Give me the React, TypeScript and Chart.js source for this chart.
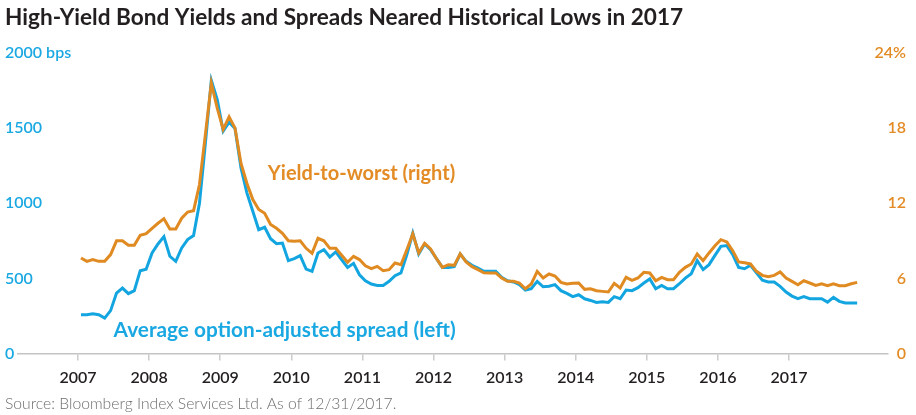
import React, { useEffect, useRef } from 'react';
import { Chart, registerables } from 'chart.js';

Chart.register(...registerables);

const titleText = 'High-Yield Bond Yields and Spreads Neared Historical Lows in 2017';
const sourceText = 'Source: Bloomberg Index Services Ltd. As of 12/31/2017.';

const years = [2007, 2008, 2009, 2010, 2011, 2012, 2013, 2014, 2015, 2016, 2017];

// Average option-adjusted spread, bps (left axis), monthly Jan 2007 - Dec 2017
const oasBps = [
  258, 258, 265, 258, 235, 285, 402, 435, 398, 418, 551, 560,
  669, 729, 778, 647, 613, 702, 758, 785, 1000, 1400, 1818, 1690,
  1480, 1540, 1498, 1236, 1069, 947, 824, 840, 764, 731, 735, 618,
  631, 651, 562, 547, 669, 691, 642, 676, 624, 573, 600, 524,
  484, 462, 453, 453, 480, 518, 536, 658, 802, 662, 729, 691,
  631, 573, 573, 578, 662, 613, 587, 569, 547, 547, 547, 507,
  484, 476, 458, 422, 431, 480, 444, 447, 458, 418, 400, 378,
  391, 364, 353, 340, 344, 340, 378, 364, 422, 418, 438, 469,
  496, 431, 453, 431, 431, 464, 502, 531, 618, 558, 591, 653,
  713, 718, 658, 573, 564, 587, 536, 487, 476, 476, 447, 409,
  382, 365, 378, 364, 364, 364, 342, 373, 347, 336, 336, 336,
];

// Yield-to-worst, % (right axis), monthly Jan 2007 - Dec 2017
const ytwPct = [
  7.63, 7.36, 7.5, 7.36, 7.36, 7.9, 9.0, 9.0, 8.64, 8.64, 9.44, 9.57,
  10.0, 10.4, 10.77, 9.95, 9.95, 10.8, 11.3, 11.4, 13.5, 17.5, 21.6, 19.6,
  17.9, 18.9, 18.0, 15.2, 13.6, 12.3, 11.5, 11.2, 10.3, 10.0, 9.6, 9.0,
  8.96, 9.0, 8.4, 8.0, 9.2, 9.0, 8.4, 8.4, 7.84, 7.28, 7.76, 7.5,
  7.0, 6.77, 6.96, 6.61, 6.69, 7.23, 7.09, 8.29, 9.55, 8.03, 8.8, 8.35,
  7.57, 6.88, 7.09, 7.04, 7.95, 7.31, 6.93, 6.69, 6.45, 6.43, 6.43, 6.03,
  5.76, 5.76, 5.63, 5.17, 5.55, 6.56, 6.03, 6.35, 6.19, 5.68, 5.55, 5.6,
  5.63, 5.12, 5.17, 5.01, 4.96, 4.91, 5.6, 5.23, 6.08, 5.84, 6.03, 6.48,
  6.43, 5.81, 6.08, 5.89, 5.89, 6.48, 6.88, 7.15, 7.95, 7.41, 8.03, 8.61,
  9.09, 8.91, 8.21, 7.31, 7.25, 7.15, 6.56, 6.24, 6.13, 6.24, 6.51, 6.03,
  5.76, 5.49, 5.81, 5.63, 5.44, 5.57, 5.41, 5.57, 5.41, 5.41, 5.57, 5.68,
];

const leftTicks = [0, 500, 1000, 1500, 2000];
const rightTicks = [0, 6, 12, 18, 24];

const xMin = 2006.156;
const xMax = 2018.392;

const BLUE = '#12a5e0';
const ORANGE = '#e08a22';
const BLUE_TEXT = '#1aa8e2';
const ORANGE_TEXT = '#e38c26';

const seriesLabels = [
  { text: 'Yield-to-worst (right)', x: 2009.67, y: 14.4, axis: 'y2', color: ORANGE_TEXT, size: 20 },
  { text: 'Average option-adjusted spread (left)', x: 2007.5, y: 155, axis: 'y', color: BLUE_TEXT, size: 20.8 },
];

const FONT = 'Lato, "Noto Sans", sans-serif';

export default function App() {
  const ref = useRef<HTMLCanvasElement | null>(null);

  useEffect(() => {
    document.body.style.margin = '0';
    const canvas = ref.current;
    if (!canvas) return;
    const dates = oasBps.map((_, i) => years[0] + (i + 0.5) / 12);

    const labelPlugin = {
      id: 'seriesLabels',
      afterDatasetsDraw(chart: any) {
        const { ctx, scales } = chart;
        ctx.save();
        ctx.textBaseline = 'middle';
        ctx.textAlign = 'left';
        for (const a of seriesLabels) {
          ctx.font = `bold ${a.size}px ${FONT}`;
          ctx.fillStyle = a.color;
          ctx.fillText(a.text, scales.x.getPixelForValue(a.x), scales[a.axis].getPixelForValue(a.y));
        }
        ctx.restore();
      },
    };

    const chart = new Chart(canvas, {
      type: 'line',
      data: {
        datasets: [
          {
            label: 'Yield-to-worst (right)',
            data: dates.map((x, i) => ({ x, y: ytwPct[i] })),
            yAxisID: 'y2',
            borderColor: ORANGE,
            borderWidth: 3,
            pointRadius: 0,
            tension: 0,
            fill: false,
          },
          {
            label: 'Average option-adjusted spread (left)',
            data: dates.map((x, i) => ({ x, y: oasBps[i] })),
            yAxisID: 'y',
            borderColor: BLUE,
            borderWidth: 3,
            pointRadius: 0,
            tension: 0,
            fill: false,
          },
        ],
      },
      options: {
        responsive: true,
        maintainAspectRatio: false,
        animation: false,
        layout: { padding: { left: 5, right: 6, top: 0, bottom: 0 } },
        plugins: {
          legend: { display: false },
          tooltip: { enabled: false },
          title: {
            display: true,
            text: titleText,
            align: 'start',
            color: '#231f20',
            font: { family: FONT, size: 22.6, weight: 'bold' },
            padding: { top: 4, bottom: 21.9 },
          },
          subtitle: {
            display: true,
            position: 'bottom',
            text: sourceText,
            align: 'start',
            color: '#6d6e71',
            font: { family: FONT, size: 15.7, weight: '300' },
            padding: { top: 0, bottom: 1.5 },
          },
        },
        scales: {
          x: {
            type: 'linear',
            min: xMin,
            max: xMax,
            afterBuildTicks: (s: any) => {
              s.ticks = years.map((v) => ({ value: v }));
            },
            grid: { drawOnChartArea: false, drawTicks: true, tickLength: 7, color: '#cccccc', lineWidth: 1.5 },
            border: { display: true, color: '#c4c4c4', width: 1.5 },
            ticks: {
              color: '#231f20',
              font: { family: FONT, size: 16, weight: '600' },
              padding: 7.5,
              autoSkip: false,
              maxRotation: 0,
              callback: (v: any) => String(v),
            },
          },
          y: {
            position: 'left',
            min: 0,
            max: 2000,
            afterBuildTicks: (s: any) => {
              s.ticks = leftTicks.map((v) => ({ value: v }));
            },
            afterFit: (s: any) => {
              s.width = 13;
            },
            grid: { display: false },
            border: { display: false },
            ticks: {
              mirror: true,
              crossAlign: 'near',
              padding: -13,
              color: BLUE_TEXT,
              font: { family: FONT, size: 16, weight: '600' },
              callback: (v: any) => (v === 2000 ? '2000 bps' : String(v)),
            },
          },
          y2: {
            position: 'right',
            min: 0,
            max: 24,
            afterBuildTicks: (s: any) => {
              s.ticks = rightTicks.map((v) => ({ value: v }));
            },
            afterFit: (s: any) => {
              s.width = 22;
            },
            grid: { display: false },
            border: { display: false },
            ticks: {
              mirror: true,
              crossAlign: 'near',
              padding: 18,
              color: ORANGE_TEXT,
              font: { family: FONT, size: 16, weight: '600' },
              callback: (v: any) => (v === 24 ? '24%' : String(v)),
            },
          },
        },
      },
      plugins: [labelPlugin],
    } as any);

    return () => chart.destroy();
  }, []);

  return (
    <div style={{ position: 'relative', width: 916, height: 415 }}>
      <canvas ref={ref} />
    </div>
  );
}
